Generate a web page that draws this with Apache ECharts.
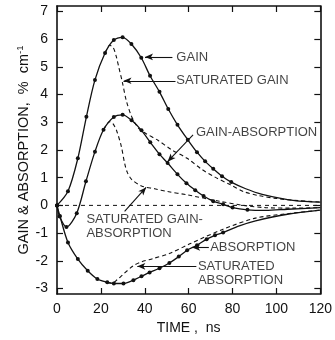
<!DOCTYPE html>
<html>
<head>
<meta charset="utf-8">
<script src="https://cdn.jsdelivr.net/npm/echarts@6/dist/echarts.min.js"></script>
<style>
html, body { margin: 0; padding: 0; background: #fff; }
#chart { width: 335px; height: 340px; }
</style>
</head>
<body>
<div id="chart"></div>
<script>
// ticks on the y axis (the box itself runs a bit past -3 and 7)
const yTicks = [-3, -2, -1, 0, 1, 2, 3, 4, 5, 6, 7]

// [time ns, % cm-1]
const gain = [[0, 0], [5, 0.51], [9.5, 1.7], [13.4, 3.2], [17.3, 4.53], [21.9, 5.5], [25.9, 5.97], [29.9, 6.07],
  [33.9, 5.83], [38.4, 5.33], [42.4, 4.68], [46.7, 4.1], [50.7, 3.48], [54.9, 2.91], [59.6, 2.37], [63.8, 1.92],
  [67.5, 1.59], [71.2, 1.32], [75.2, 1.05], [79.4, 0.84], [86, 0.6], [93.5, 0.4], [108.4, 0.17], [120, 0.12]]
const satGain = [[21.9, 5.5], [24, 5.78], [25.6, 5.7], [27, 5.38], [28.1, 5.01], [29.9, 4.41], [31.5, 3.81], [34, 3.21],
  [37, 2.8], [40, 2.62], [46, 2.35], [52, 2.02], [59.3, 1.7], [66, 1.3], [72, 1.02], [78.6, 0.76], [85, 0.5],
  [92, 0.35], [100, 0.25], [110, 0.17], [120, 0.12]]
const gainAbs = [[0, 0], [1.2, -0.4], [4.3, -0.78], [9, -0.28], [13.2, 0.87], [17.3, 1.94], [21.2, 2.73], [25.9, 3.19],
  [29.9, 3.27], [34, 3.07], [38.5, 2.71], [42.5, 2.28], [46.7, 1.85], [50.4, 1.53], [54.9, 1.12], [59, 0.8],
  [63, 0.55], [66.8, 0.34], [71.2, 0.15], [75.7, 0.04], [80, -0.08], [86.8, -0.16], [95, -0.18], [105, -0.14], [120, -0.08]]
const satGainAbs = [[21.2, 2.73], [24, 3.02], [25.5, 2.95], [27.3, 2.67], [29.3, 2.13], [30.8, 1.53], [32, 1.2], [34, 0.94],
  [38.5, 0.7], [44.5, 0.6], [50.4, 0.5], [59.3, 0.38], [74, 0.15], [85, 0], [95, -0.08], [108, -0.1], [120, -0.08]]
const absorption = [[0, 0], [1.3, -0.38], [5, -1.34], [9.5, -1.94], [14, -2.36], [18.4, -2.66], [22.9, -2.78], [25.9, -2.82],
  [30.3, -2.82], [34.8, -2.7], [38.5, -2.56], [42.2, -2.42], [46.7, -2.27], [51.2, -2.08], [55.5, -1.85], [59.3, -1.62],
  [63.8, -1.44], [68.2, -1.22], [72, -1.08], [75.7, -0.98], [83.1, -0.74], [90.5, -0.56], [105, -0.32], [120, -0.17]]
const satAbsorption = [[22.9, -2.78], [25.1, -2.81], [27.5, -2.68], [30.3, -2.48], [34.8, -2.18], [38.5, -2.04],
  [43.7, -1.92], [51.2, -1.74], [60.8, -1.38], [75.7, -0.86], [90.5, -0.46], [105, -0.3], [120, -0.17]]
const zeroLine = [[0, 0], [120, 0]]

// dots are drawn only up to this time on each solid curve
const dotsUntil = { gain: 80, gainAbs: 88, absorption: 80 }

// callouts: text anchor (left/middle) and arrow tail -> head, in data units
const noteText = ['GAIN', 'SATURATED GAIN', 'GAIN-ABSORPTION', 'SATURATED GAIN-\nABSORPTION', 'ABSORPTION', 'SATURATED\nABSORPTION']
const noteAt = [[54.4, 5.36], [54.4, 4.5], [63.3, 2.63], [13.4, -0.76], [69.8, -1.52], [64.2, -2.45]]
const arrowFrom = [[52.6, 5.36], [54, 4.5], [62, 2.55], [30.8, -0.22], [69.2, -1.52], [63.5, -2.2]]
const arrowTo = [[40.1, 5.36], [30.3, 4.5], [50.4, 1.58], [40.6, 0.65], [61.6, -1.52], [36.6, -2.2]]

const FONT = 'Liberation Sans'
const INK = '#111'

function dotted(pts, limit) {
  return pts.map((p) => ({ value: p, symbol: p[0] <= limit ? 'circle' : 'none' }))
}

function solid(name, pts, limit) {
  return {
    name, type: 'line', smooth: 0.3,
    data: dotted(pts, limit), symbolSize: 4, showSymbol: true,
    itemStyle: { color: INK }, lineStyle: { color: INK, width: 1.3 }, z: 3
  }
}

function dashed(name, pts) {
  return {
    name, type: 'line', smooth: 0.3, data: pts, showSymbol: false,
    lineStyle: { color: INK, width: 1.1, type: [4, 3] }, z: 2
  }
}

const axisCommon = {
  axisLine: { show: true, onZero: false, lineStyle: { color: INK, width: 1.6 } },
  axisTick: { show: true, inside: true, length: 6, lineStyle: { color: INK, width: 1.2 } },
  splitLine: { show: false }
}

const chart = echarts.init(document.getElementById('chart'))
chart.setOption({
  animation: false,
  backgroundColor: '#fff',
  grid: { left: 57, right: 9, top: 6, bottom: 45 },
  xAxis: [
    {
      type: 'value', min: 0, max: 120, interval: 20, ...axisCommon,
      axisLabel: { color: INK, fontFamily: FONT, fontSize: 14, margin: 8 },
      name: 'TIME ,  ns', nameLocation: 'middle', nameGap: 27, nameMoveOverlap: false,
      nameTextStyle: { color: INK, fontFamily: FONT, fontSize: 14 }
    },
    {
      type: 'value', position: 'top', min: 0, max: 120, interval: 20, ...axisCommon,
      axisLabel: { show: false }
    }
  ],
  yAxis: [
    {
      type: 'value', min: -3.2, max: 7.2, ...axisCommon,
      axisTick: { ...axisCommon.axisTick, customValues: yTicks },
      axisLabel: { color: INK, fontFamily: FONT, fontSize: 14, margin: 9, customValues: yTicks },
      name: '{t|GAIN & ABSORPTION,  %  cm}{s|-1}', nameLocation: 'middle', nameRotate: 90,
      nameGap: 24, nameMoveOverlap: false,
      nameTextStyle: {
        rich: {
          t: { color: INK, fontFamily: FONT, fontSize: 14.5 },
          s: { color: INK, fontFamily: FONT, fontSize: 9.5, padding: [0, 0, 8, 0] }
        }
      }
    },
    {
      type: 'value', position: 'right', min: -3.2, max: 7.2, ...axisCommon,
      axisTick: { ...axisCommon.axisTick, customValues: yTicks },
      axisLabel: { show: false }
    }
  ],
  series: [
    {
      name: 'zero', type: 'line', data: zeroLine, showSymbol: false,
      lineStyle: { color: INK, width: 1, type: [4, 4] }, z: 1
    },
    solid('GAIN', gain, dotsUntil.gain),
    dashed('SATURATED GAIN', satGain),
    solid('GAIN-ABSORPTION', gainAbs, dotsUntil.gainAbs),
    dashed('SATURATED GAIN-ABSORPTION', satGainAbs),
    solid('ABSORPTION', absorption, dotsUntil.absorption),
    dashed('SATURATED ABSORPTION', satAbsorption),
    {
      name: 'notes', type: 'scatter', symbol: 'circle', symbolSize: 0, z: 5, silent: true,
      data: noteAt.map((p, i) => ({ value: p, name: noteText[i] })),
      label: {
        show: true, position: 'right', distance: 0, formatter: (p) => p.name,
        color: INK, fontFamily: FONT, fontSize: 13, lineHeight: 13.5
      },
      markLine: {
        silent: true, symbol: ['none', 'arrow'], symbolSize: [5, 8],
        label: { show: false },
        lineStyle: { color: INK, width: 1.1, type: 'solid' },
        data: arrowFrom.map((f, i) => [{ coord: f }, { coord: arrowTo[i] }])
      }
    }
  ]
})
</script>
</body>
</html>
